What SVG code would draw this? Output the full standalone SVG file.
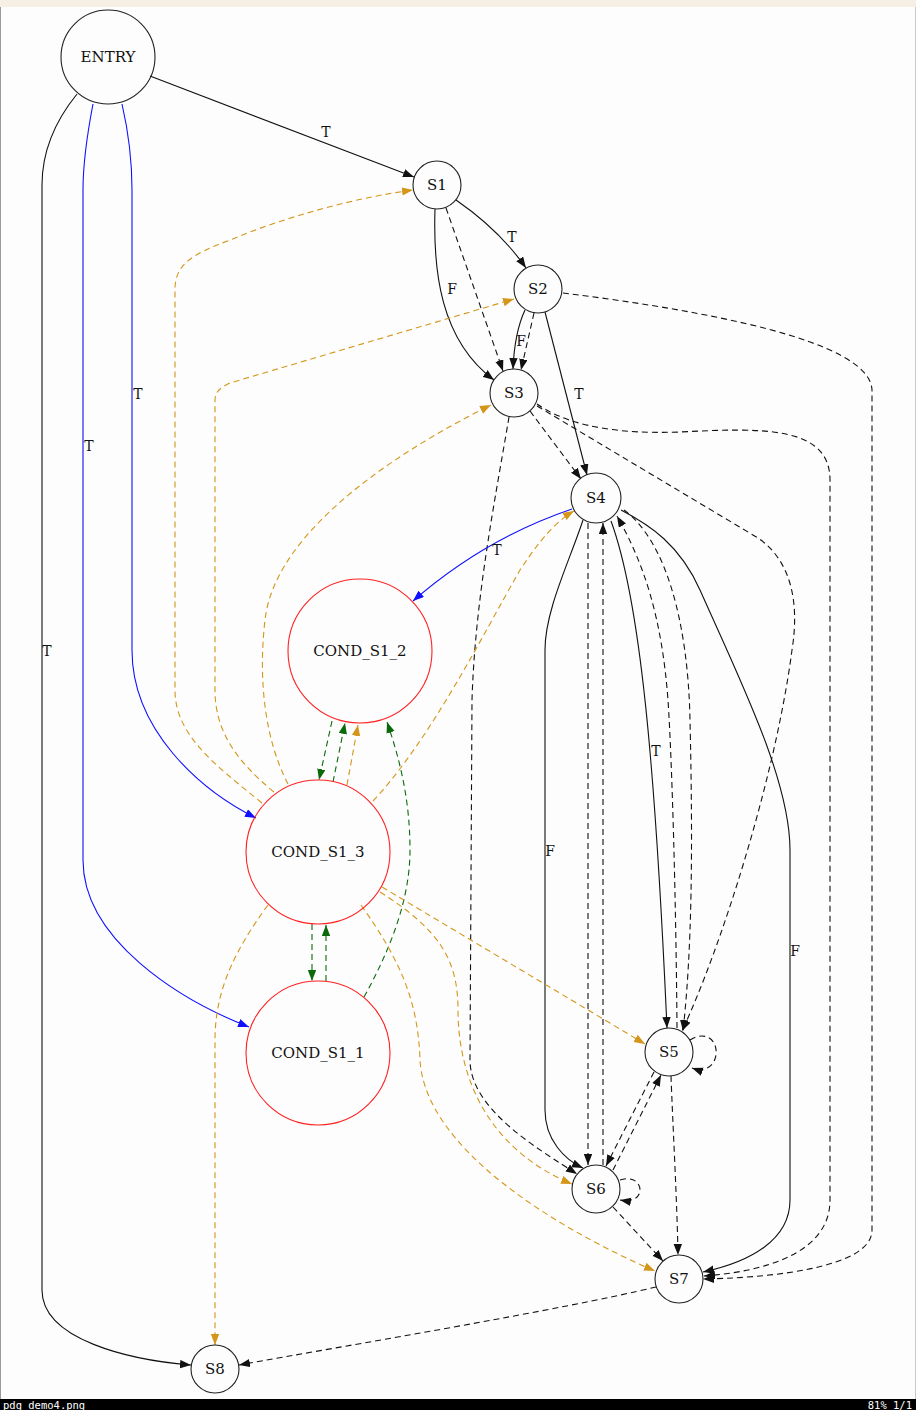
<svg xmlns="http://www.w3.org/2000/svg" width="916" height="1410" viewBox="0 0 916 1410">
<style>
.n{fill:none;stroke:#222;stroke-width:1.1}
.c{fill:none;stroke:#ff2020;stroke-width:1.1}
.t{font-family:"DejaVu Serif","Liberation Serif",serif;font-size:15px;fill:#111;text-anchor:middle}
.l{font-family:"DejaVu Serif","Liberation Serif",serif;font-size:14px;fill:#111;text-anchor:middle}
.e{fill:none;stroke-width:1.1}
.k{stroke:#111}
.b{stroke:#1010ff}
.o{stroke:#d4961a}
.g{stroke:#0a6a0a}
.d{stroke-dasharray:6,4}
.s{font-family:"DejaVu Sans Mono","Liberation Mono",monospace;font-size:10.5px;fill:#fff}
</style>
<defs>
<marker id="ak" markerUnits="userSpaceOnUse" markerWidth="12" markerHeight="9" refX="11" refY="4.2" orient="auto"><path d="M0,0 L11,4.2 L0,8.4 z" fill="#111"/></marker>
<marker id="ab" markerUnits="userSpaceOnUse" markerWidth="12" markerHeight="9" refX="11" refY="4.2" orient="auto"><path d="M0,0 L11,4.2 L0,8.4 z" fill="#1010ff"/></marker>
<marker id="ao" markerUnits="userSpaceOnUse" markerWidth="12" markerHeight="9" refX="11" refY="4.2" orient="auto"><path d="M0,0 L11,4.2 L0,8.4 z" fill="#d4961a"/></marker>
<marker id="ag" markerUnits="userSpaceOnUse" markerWidth="12" markerHeight="9" refX="11" refY="4.2" orient="auto"><path d="M0,0 L11,4.2 L0,8.4 z" fill="#0a6a0a"/></marker>
</defs>
<rect x="0" y="0" width="916" height="1410" fill="#fdfdfd"/>
<rect x="0" y="0" width="916" height="7" fill="#f6f0e4"/>
<line x1="0.5" y1="7" x2="0.5" y2="1399" stroke="#9a9a9a"/>
<line x1="915.5" y1="7" x2="915.5" y2="1399" stroke="#c8c8c8"/>

<g id="connectors">
<path class="e k" d="M150,76 L414,177" marker-end="url(#ak)"/>
<path class="e b" d="M122,104 C128,130 132,160 132,190 L132,650 C132,730 200,790 256,818" marker-end="url(#ab)"/>
<path class="e b" d="M93,104 C88,130 83,160 83,190 L83,860 C83,940 180,1000 249,1027" marker-end="url(#ab)"/>
<path class="e k" d="M77,94 C60,115 42,145 42,185 L42,1290 C42,1340 130,1360 191,1365" marker-end="url(#ak)"/>
<path class="e k" d="M456,200 C485,220 510,245 526,268" marker-end="url(#ak)"/>
<path class="e k" d="M435,209 C433,270 440,340 494,380" marker-end="url(#ak)"/>
<path class="e k d" d="M446,208 L503,371" marker-end="url(#ak)"/>
<path class="e k" d="M525,310 C518,325 514,345 513,369" marker-end="url(#ak)"/>
<path class="e k d" d="M534,313 L521,370" marker-end="url(#ak)"/>
<path class="e k" d="M545,312 L587,475" marker-end="url(#ak)"/>
<path class="e k d" d="M563,293 C700,310 870,340 872,390 L872,1230 C872,1270 760,1278 703,1279" marker-end="url(#ak)"/>
<path class="e k d" d="M530,411 L581,479" marker-end="url(#ak)"/>
<path class="e k d" d="M537,406 L758,538 C790,560 800,600 792,650 C775,780 720,950 682,1031" marker-end="url(#ak)"/>
<path class="e k d" d="M537,404 C560,420 600,435 680,432 C760,428 830,425 830,480 L830,1200 C830,1255 760,1272 704,1276" marker-end="url(#ak)"/>
<path class="e k d" d="M509,417 C495,500 475,600 472,700 L470,1060 C470,1110 540,1150 577,1174" marker-end="url(#ak)"/>
<path class="e b" d="M572,509 C510,530 460,560 413,601" marker-end="url(#ab)"/>
<path class="e k" d="M583,520 C570,560 545,610 545,650 L545,1110 C545,1140 565,1160 583,1168" marker-end="url(#ak)"/>
<path class="e k d" d="M588,523 L588,1165" marker-end="url(#ak)"/>
<path class="e k d" d="M603,1165 L603,523" marker-end="url(#ak)"/>
<path class="e k" d="M611,521 C640,600 655,760 667,1028" marker-end="url(#ak)"/>
<path class="e k d" d="M624,510 C665,540 688,620 690,720 C693,850 692,950 683,1031" marker-end="url(#ak)"/>
<path class="e k d" d="M677,1028 C676,900 672,760 668,700 C662,620 645,565 617,516" marker-end="url(#ak)"/>
<path class="e k" d="M621,510 C650,525 680,545 700,590 C740,680 790,780 790,850 L790,1200 C790,1240 750,1262 703,1272" marker-end="url(#ak)"/>
<path class="e k d" d="M690,1040 C705,1030 718,1040 716,1055 C714,1068 703,1072 692,1068" marker-end="url(#ak)"/>
<path class="e k d" d="M654,1072 L606,1166" marker-end="url(#ak)"/>
<path class="e k d" d="M613,1170 L661,1075" marker-end="url(#ak)"/>
<path class="e k d" d="M671,1076 C673,1130 677,1200 678,1255" marker-end="url(#ak)"/>
<path class="e k d" d="M620,1180 C632,1176 640,1182 640,1190 C640,1198 632,1202 620,1200" marker-end="url(#ak)"/>
<path class="e k d" d="M613,1207 L663,1261" marker-end="url(#ak)"/>
<path class="e k d" d="M656,1287 C560,1310 350,1345 239,1365" marker-end="url(#ak)"/>
<path class="e g d" d="M332,721 L319,780" marker-end="url(#ag)"/>
<path class="e g d" d="M333,782 L345,723" marker-end="url(#ag)"/>
<path class="e o d" d="M347,785 L358,725" marker-end="url(#ao)"/>
<path class="e g d" d="M364,997 C390,950 410,900 410,850 C410,800 400,760 387,722" marker-end="url(#ag)"/>
<path class="e g d" d="M312,924 L312,981" marker-end="url(#ag)"/>
<path class="e g d" d="M326,981 L326,925" marker-end="url(#ag)"/>
<path class="e o d" d="M262,803 C215,765 175,735 175,690 L175,290 C175,265 190,255 230,240 C290,215 360,197 413,190" marker-end="url(#ao)"/>
<path class="e o d" d="M274,792 C235,760 215,730 215,690 L215,400 C215,392 220,388 230,383 L514,299" marker-end="url(#ao)"/>
<path class="e o d" d="M288,784 C265,740 258,680 265,620 C275,530 400,450 491,405" marker-end="url(#ao)"/>
<path class="e o d" d="M373,801 C430,740 480,640 520,570 C540,540 555,522 574,511" marker-end="url(#ao)"/>
<path class="e o d" d="M382,887 L645,1044" marker-end="url(#ao)"/>
<path class="e o d" d="M380,892 C440,930 458,960 458,1010 C458,1080 490,1150 572,1184" marker-end="url(#ao)"/>
<path class="e o d" d="M361,905 C400,960 418,1000 420,1060 C425,1150 560,1230 655,1271" marker-end="url(#ao)"/>
<path class="e o d" d="M268,905 C235,950 215,990 215,1040 L215,1345" marker-end="url(#ao)"/>
<text class="l" x="326" y="137">T</text>
<text class="l" x="138" y="399">T</text>
<text class="l" x="89" y="451">T</text>
<text class="l" x="47" y="656">T</text>
<text class="l" x="512" y="242">T</text>
<text class="l" x="452" y="294">F</text>
<text class="l" x="521" y="346">F</text>
<text class="l" x="579" y="399">T</text>
<text class="l" x="497" y="555">T</text>
<text class="l" x="550" y="856">F</text>
<text class="l" x="656" y="756">T</text>
<text class="l" x="795" y="956">F</text>
</g>

<g id="ENTRY"><circle class="n" cx="108" cy="57" r="47"/><text class="t" x="108" y="62">ENTRY</text></g>
<g id="S1"><circle class="n" cx="437" cy="185" r="24"/><text class="t" x="437" y="190">S1</text></g>
<g id="S2"><circle class="n" cx="538" cy="289" r="24"/><text class="t" x="538" y="294">S2</text></g>
<g id="S3"><circle class="n" cx="514" cy="393" r="24"/><text class="t" x="514" y="398">S3</text></g>
<g id="S4"><circle class="n" cx="596" cy="498" r="25"/><text class="t" x="596" y="503">S4</text></g>
<g id="COND_S1_2"><circle class="c" cx="360" cy="651" r="72"/><text class="t" x="360" y="656">COND_S1_2</text></g>
<g id="COND_S1_3"><circle class="c" cx="318" cy="852" r="72"/><text class="t" x="318" y="857">COND_S1_3</text></g>
<g id="COND_S1_1"><circle class="c" cx="318" cy="1053" r="72"/><text class="t" x="318" y="1058">COND_S1_1</text></g>
<g id="S5"><circle class="n" cx="669" cy="1052" r="24"/><text class="t" x="669" y="1057">S5</text></g>
<g id="S6"><circle class="n" cx="596" cy="1189" r="24"/><text class="t" x="596" y="1194">S6</text></g>
<g id="S7"><circle class="n" cx="679" cy="1279" r="24"/><text class="t" x="679" y="1284">S7</text></g>
<g id="S8"><circle class="n" cx="215" cy="1369" r="24"/><text class="t" x="215" y="1374">S8</text></g>

<rect x="0" y="1399" width="916" height="11" fill="#000"/>
<text class="s" x="3" y="1408.5">pdg_demo4.png</text>
<text class="s" x="912" y="1408.5" text-anchor="end">81%  1/1</text>
</svg>
